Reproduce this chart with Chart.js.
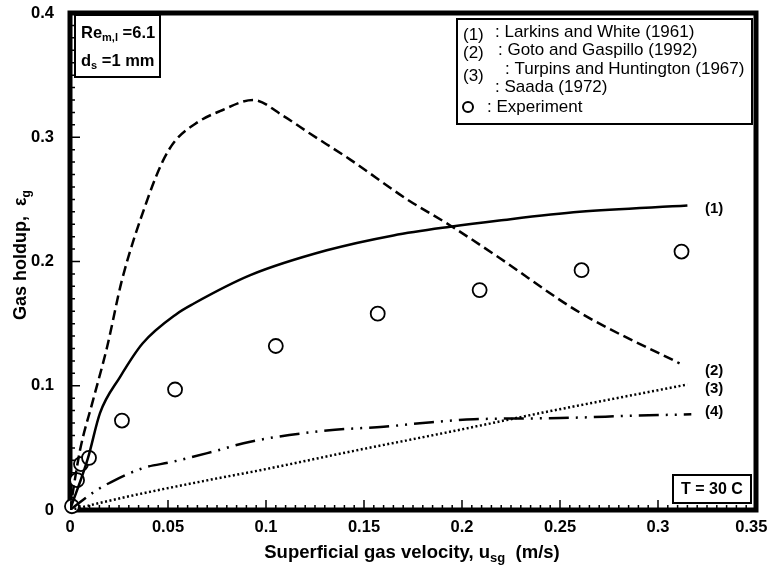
<!DOCTYPE html>
<html>
<head>
<meta charset="utf-8">
<script src="https://cdn.jsdelivr.net/npm/chart.js@4.4.1/dist/chart.umd.min.js"></script>
<style>
  html, body { margin: 0; padding: 0; background: #fff; }
  #wrap { width: 768px; height: 566px; position: relative; }
</style>
</head>
<body>
<div id="wrap"><canvas id="holdup-chart"></canvas></div>
<script>
const FONT = '"Liberation Sans", Arial, Helvetica, sans-serif';

// (1) Larkins and White (1961)
const larkinsUsg = [0, 0.0092, 0.0153, 0.0255, 0.037, 0.0546, 0.063, 0.092, 0.131, 0.165, 0.194, 0.219, 0.26, 0.315];
const larkinsEps = [0, 0.042, 0.078, 0.107, 0.134, 0.158, 0.166, 0.189, 0.209, 0.221, 0.228, 0.233, 0.24, 0.245];

// (2) Goto and Gaspillo (1992)
const gotoUsg = [0, 0.0051, 0.0117, 0.0189, 0.0265, 0.0393, 0.0474, 0.0536, 0.065, 0.0765, 0.0934, 0.109, 0.1224, 0.143, 0.172, 0.194, 0.219, 0.26, 0.311];
const gotoEps = [0, 0.048, 0.088, 0.131, 0.185, 0.249, 0.281, 0.297, 0.312, 0.321, 0.33, 0.317, 0.303, 0.282, 0.25, 0.229, 0.203, 0.159, 0.118];

// (3) Turpins and Huntington (1967)
const turpinsUsg = [0, 0.03, 0.072, 0.097, 0.143, 0.194, 0.24, 0.315];
const turpinsEps = [0, 0.011, 0.0245, 0.032, 0.047, 0.063, 0.078, 0.101];

// Saada (1972)
const saadaUsg = [0, 0.0122, 0.021, 0.0377, 0.0515, 0.073, 0.092, 0.131, 0.16, 0.18, 0.206, 0.25, 0.29, 0.317];
const saadaEps = [0, 0.0145, 0.0225, 0.034, 0.0385, 0.047, 0.055, 0.064, 0.067, 0.07, 0.073, 0.074, 0.076, 0.077];

// measured holdup
const expUsg = [0.001, 0.0036, 0.0056, 0.0097, 0.0265, 0.0536, 0.105, 0.157, 0.209, 0.261, 0.312];
const expEps = [0.003, 0.024, 0.037, 0.042, 0.072, 0.097, 0.132, 0.158, 0.177, 0.193, 0.208];

const xTicks = [0, 0.05, 0.1, 0.15, 0.2, 0.25, 0.3, 0.35];
const yTicks = [0, 0.1, 0.2, 0.3, 0.4];

const legendRows = [
  { tag: '(1)', text: ': Larkins and White (1961)' },
  { tag: '(2)', text: ': Goto and Gaspillo (1992)' },
  { tag: '(3)', text: ': Turpins and Huntington (1967)' },
  { tag: '',    text: ': Saada (1972)' },
  { tag: 'o',   text: ': Experiment' },
];
const curveTags = ['(1)', '(2)', '(3)', '(4)'];

const pts = (xs, ys) => xs.map((x, i) => ({ x, y: ys[i] }));
const fmt = v => String(+(+v).toFixed(2));

function curve(label, xs, ys, dash) {
  return {
    label, data: pts(xs, ys), showLine: true,
    borderColor: '#000', borderWidth: 2.5, borderDash: dash,
    pointRadius: 0, cubicInterpolationMode: 'monotone',
  };
}

// text with optional subscript pieces, left aligned at x
function richText(ctx, parts, x, y, size, weight) {
  let cx = x;
  parts.forEach(p => {
    const s = p.sub ? Math.round(size * 0.68) : size;
    ctx.font = `${weight} ${s}px ${FONT}`;
    ctx.fillText(p.t, cx, p.sub ? y + size * 0.3 : y);
    cx += ctx.measureText(p.t).width;
  });
  return cx - x;
}
function richWidth(ctx, parts, size, weight) {
  let w = 0;
  parts.forEach(p => {
    const s = p.sub ? Math.round(size * 0.68) : size;
    ctx.font = `${weight} ${s}px ${FONT}`;
    w += ctx.measureText(p.t).width;
  });
  return w;
}

function box(ctx, x1, y1, x2, y2) {
  ctx.fillStyle = '#fff';
  ctx.fillRect(x1, y1, x2 - x1, y2 - y1);
  ctx.strokeStyle = '#000';
  ctx.lineWidth = 2;
  ctx.strokeRect(x1, y1, x2 - x1, y2 - y1);
}

const decorations = {
  id: 'decorations',
  beforeDatasetsDraw(chart) {
    const { ctx, chartArea: a, scales: { x, y } } = chart;
    ctx.save();
    ctx.strokeStyle = '#000';
    ctx.lineWidth = 1.5;
    ctx.beginPath();
    for (let i = 0; i <= 70; i++) {
      const px = x.getPixelForValue(i * 0.005);
      const len = i % 10 === 0 ? 10 : 5;
      ctx.moveTo(px, a.bottom);
      ctx.lineTo(px, a.bottom - len);
    }
    for (let i = 0; i <= 40; i++) {
      const py = y.getPixelForValue(i * 0.01);
      const len = i % 10 === 0 ? 10 : 5;
      ctx.moveTo(a.left, py);
      ctx.lineTo(a.left + len, py);
    }
    ctx.stroke();
    ctx.lineWidth = 5;
    ctx.strokeRect(a.left, a.top, a.right - a.left, a.bottom - a.top);
    ctx.restore();
  },
  afterDatasetsDraw(chart) {
    const { ctx, scales: { x, y } } = chart;
    ctx.save();
    ctx.fillStyle = '#000';
    ctx.textBaseline = 'middle';

    // flow conditions, top left
    box(ctx, 75, 15, 160, 77);
    ctx.fillStyle = '#000';
    richText(ctx, [{ t: 'Re' }, { t: 'm,l', sub: true }, { t: ' =6.1' }], 81, 33, 16.5, 'bold');
    richText(ctx, [{ t: 'd' }, { t: 's', sub: true }, { t: ' =1 mm' }], 81, 61, 16.5, 'bold');

    // temperature, bottom right
    box(ctx, 673, 475, 751, 503);
    ctx.fillStyle = '#000';
    ctx.font = `bold 16px ${FONT}`;
    ctx.textAlign = 'center';
    ctx.fillText('T = 30 C', 712, 490);
    ctx.textAlign = 'left';

    // legend
    box(ctx, 457, 19, 752, 124);
    ctx.fillStyle = '#000';
    ctx.font = `17px ${FONT}`;
    const rowY = [32, 50, 69, 87, 107];
    const tagDy = [3, 3, 7, 0, 0];
    const textX = [495, 498, 505, 495, 487];
    legendRows.forEach((r, i) => {
      if (r.tag === 'o') {
        ctx.beginPath();
        ctx.lineWidth = 2;
        ctx.arc(468, rowY[i], 5, 0, Math.PI * 2);
        ctx.stroke();
      } else if (r.tag) {
        ctx.fillText(r.tag, 463, rowY[i] + tagDy[i]);
      }
      ctx.fillText(r.text, textX[i], rowY[i]);
    });

    // curve numbers next to the line ends
    const ends = [
      [larkinsUsg, larkinsEps, 3], [gotoUsg, gotoEps, 7],
      [turpinsUsg, turpinsEps, 4], [saadaUsg, saadaEps, -2],
    ];
    ctx.font = `bold 15px ${FONT}`;
    ends.forEach(([xs, ys, dy], i) => {
      const py = y.getPixelForValue(ys[ys.length - 1]);
      ctx.fillText(curveTags[i], 705, py + dy);
    });
    ctx.restore();
  },
  afterDraw(chart) {
    const { ctx } = chart;
    ctx.save();
    ctx.fillStyle = '#000';
    ctx.textBaseline = 'middle';
    const xt = [{ t: 'Superficial gas velocity, u' }, { t: 'sg', sub: true }, { t: '  (m/s)' }];
    const xw = richWidth(ctx, xt, 18.5, 'bold');
    richText(ctx, xt, 412 - xw / 2, 553, 18.5, 'bold');

    const yt = [{ t: 'Gas holdup,  ' }, { t: '\u03b5' }, { t: 'g', sub: true }];
    const yw = richWidth(ctx, yt, 18, 'bold');
    ctx.translate(21, 255);
    ctx.rotate(-Math.PI / 2);
    richText(ctx, yt, -yw / 2, 0, 18, 'bold');
    ctx.restore();
  },
};

new Chart(document.getElementById('holdup-chart'), {
  type: 'scatter',
  data: {
    datasets: [
      curve('Larkins and White (1961)', larkinsUsg, larkinsEps, []),
      curve('Goto and Gaspillo (1992)', gotoUsg, gotoEps, [10, 5]),
      curve('Turpins and Huntington (1967)', turpinsUsg, turpinsEps, [2, 2.5]),
      curve('Saada (1972)', saadaUsg, saadaEps, [20, 7, 2, 7, 2, 7]),
      {
        label: 'Experiment', data: pts(expUsg, expEps), clip: 12,
        pointStyle: 'circle', pointRadius: 7,
        pointBackgroundColor: '#fff', pointBorderColor: '#000', pointBorderWidth: 1.8,
      },
    ],
  },
  options: {
    responsive: true,
    maintainAspectRatio: false,
    animation: false,
    events: [],
    layout: { padding: { top: 13, right: 12, bottom: 0, left: 0 } },
    plugins: { legend: { display: false }, tooltip: { enabled: false } },
    scales: {
      x: {
        type: 'linear', min: 0, max: 0.35,
        afterBuildTicks: s => { s.ticks = xTicks.map(v => ({ value: v })); },
        afterFit: s => { s.height = 56; s.paddingLeft = 0; s.paddingRight = 0; },
        ticks: {
          color: '#000', padding: 8, maxRotation: 0, autoSkip: false,
          font: { family: FONT, size: 16.5, weight: 'bold' },
          // keep the last label inside the canvas
          callback: (v, i, all) => i === all.length - 1 ? fmt(v) + '  ' : fmt(v),
        },
        grid: { display: false, drawTicks: false },
        border: { display: false },
      },
      y: {
        type: 'linear', min: 0, max: 0.4,
        afterBuildTicks: s => { s.ticks = yTicks.map(v => ({ value: v })); },
        afterFit: s => { s.width = 70; s.paddingTop = 0; s.paddingBottom = 0; },
        ticks: {
          color: '#000', padding: 16, autoSkip: false,
          font: { family: FONT, size: 16.5, weight: 'bold' }, callback: fmt,
        },
        grid: { display: false, drawTicks: false },
        border: { display: false },
      },
    },
  },
  plugins: [decorations],
});
</script>
</body>
</html>
